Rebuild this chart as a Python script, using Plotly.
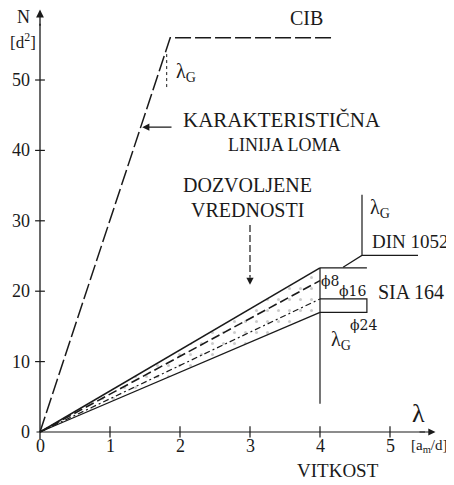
import plotly.graph_objects as go

# ---- data ----
x_ticks = [0, 1, 2, 3, 4, 5]
y_ticks = [0, 10, 20, 30, 40, 50]

cib_x = [0, 1.86, 4.2]
cib_y = [0, 56, 56]

band_x = [0, 4]
band_upper = [0, 23.3]
band_phi8 = [0, 21.5]
band_phi16 = [0, 18.9]
band_lower = [0, 17.0]

lam_g_cib_x = [1.81, 1.81]
lam_g_cib_y = [49, 54]

vert4_x = [4, 4]
vert4_y = [23.3, 4]

top_h_x = [4, 4.67]
top_h_y = [23.3, 23.3]
mid_bracket_x = [4, 4.67, 4.67, 4]
mid_bracket_y = [18.9, 18.9, 17.0, 17.0]
din_x = [4.33, 4.6, 4.6, 4.6, 5.4]
din_y = [23.4, 25.1, 33.7, 25.1, 25.1]

arrow_dz_x = [3.0, 3.0]
arrow_dz_y = [29.4, 22.0]

INK = "#1a1a1a"
FONT = "Liberation Serif"

fig = go.Figure()

# stippled band
fig.add_trace(go.Scatter(x=band_x, y=band_lower, mode="lines",
                         line=dict(color=INK, width=1.3), showlegend=False))
fig.add_trace(go.Scatter(x=band_x, y=band_upper, mode="lines",
                         line=dict(color=INK, width=1.5), fill="tonexty",
                         fillcolor="rgba(0,0,0,0)",
                         fillpattern=dict(shape=".", fgcolor="#999999",
                                          bgcolor="rgba(0,0,0,0)", size=11, solidity=0.06),
                         showlegend=False))
fig.add_trace(go.Scatter(x=band_x, y=band_phi8, mode="lines",
                         line=dict(color=INK, width=1.6, dash="9px,4px"), showlegend=False))
fig.add_trace(go.Scatter(x=band_x, y=band_phi16, mode="lines",
                         line=dict(color=INK, width=1.2, dash="6px,3px,2px,3px"), showlegend=False))

# CIB characteristic line
fig.add_trace(go.Scatter(x=cib_x, y=cib_y, mode="lines",
                         line=dict(color=INK, width=1.5, dash="16px,4px"), showlegend=False))
fig.add_trace(go.Scatter(x=lam_g_cib_x, y=lam_g_cib_y, mode="lines",
                         line=dict(color=INK, width=1, dash="3px,3px"), showlegend=False))

# verticals and brackets
for xs, ys in [(vert4_x, vert4_y), (top_h_x, top_h_y), (mid_bracket_x, mid_bracket_y), (din_x, din_y)]:
    fig.add_trace(go.Scatter(x=xs, y=ys, mode="lines",
                             line=dict(color=INK, width=1.2), showlegend=False))

fig.add_trace(go.Scatter(x=arrow_dz_x, y=arrow_dz_y, mode="lines",
                         line=dict(color=INK, width=1.2, dash="7px,3px"), showlegend=False))

# axes lines with ticks
fig.add_trace(go.Scatter(x=[0, 0], y=[-1, 58], mode="lines",
                         line=dict(color=INK, width=1.3), showlegend=False))
fig.add_trace(go.Scatter(x=[-0.05, 5.5], y=[0, 0], mode="lines",
                         line=dict(color=INK, width=1.2), showlegend=False))
for yt in y_ticks[1:]:
    fig.add_trace(go.Scatter(x=[-0.07, 0.07], y=[yt, yt], mode="lines",
                             line=dict(color=INK, width=1.2), showlegend=False))
for xt in x_ticks[1:]:
    fig.add_trace(go.Scatter(x=[xt, xt], y=[-0.8, 0.8], mode="lines",
                             line=dict(color=INK, width=1.2), showlegend=False))

ann = []
def txt(x, y, t, size=19, xanchor="center", yanchor="middle", family=FONT):
    ann.append(dict(x=x, y=y, text=t, showarrow=False, xref="x", yref="y",
                    xanchor=xanchor, yanchor=yanchor,
                    font=dict(family=family, size=size, color=INK)))

for yt in y_ticks:
    txt(-0.11, yt, str(yt), size=18, xanchor="right")
for xt in x_ticks:
    txt(xt, -2.0, str(xt), size=18)

txt(-0.23, 59.0, "N", size=18)
txt(-0.25, 55.6, "[d<sup>2</sup>]", size=17)
txt(5.4, 2.6, "λ", size=26)
txt(5.56, -2.0, "[a<sub>m</sub>/d]", size=15)
txt(4.26, -3.75, "VITKOST", size=19, yanchor="top")
txt(3.8, 58.8, "CIB", size=20)
txt(1.92, 51.0, "λ<sub>G</sub>", size=20, xanchor="left")
txt(2.02, 44.3, "KARAKTERISTIČNA", size=21, xanchor="left")
txt(3.49, 40.8, "LINIJA LOMA", size=18)
txt(2.96, 35.1, "DOZVOLJENE", size=20)
txt(2.96, 31.5, "VREDNOSTI", size=20)
txt(4.68, 31.8, "λ<sub>G</sub>", size=20, xanchor="left")
txt(4.72, 27.0, "DIN 1052", size=19, xanchor="left")
txt(4.14, 21.4, "ϕ8", size=14, family="DejaVu Serif")
txt(4.46, 20.0, "ϕ16", size=14, family="DejaVu Serif")
txt(4.8, 19.9, "SIA 164", size=20, xanchor="left")
txt(4.62, 15.2, "ϕ24", size=14, family="DejaVu Serif")
txt(4.3, 13.0, "λ<sub>G</sub>", size=20)

# arrows
ann.append(dict(x=0, y=60.0, ax=0, ay=57.5, xref="x", yref="y", axref="x", ayref="y",
                showarrow=True, arrowhead=2, arrowsize=1.2, arrowwidth=1.3,
                arrowcolor=INK, text=""))
ann.append(dict(x=5.65, y=0, ax=5.4, ay=0, xref="x", yref="y", axref="x", ayref="y",
                showarrow=True, arrowhead=2, arrowsize=1.2, arrowwidth=1.2,
                arrowcolor=INK, text=""))
ann.append(dict(x=1.46, y=43.3, ax=1.9, ay=43.3, xref="x", yref="y", axref="x", ayref="y",
                showarrow=True, arrowhead=2, arrowsize=1.2, arrowwidth=1.2,
                arrowcolor=INK, text=""))
ann.append(dict(x=3.0, y=20.9, ax=3.0, ay=22.2, xref="x", yref="y", axref="x", ayref="y",
                showarrow=True, arrowhead=2, arrowsize=1.2, arrowwidth=1.2,
                arrowcolor=INK, text=""))

# the page adds an 8px body margin; size the figure to compensate
fig.update_layout(
    width=446, height=477,
    margin=dict(l=12, r=14, t=0, b=15),
    paper_bgcolor="white", plot_bgcolor="white",
    xaxis=dict(range=[-0.2857, 5.7143], visible=False, fixedrange=True),
    yaxis=dict(range=[-5.40, 60.23], visible=False, fixedrange=True),
    annotations=ann,
    showlegend=False,
)

fig.write_html("out.html")
